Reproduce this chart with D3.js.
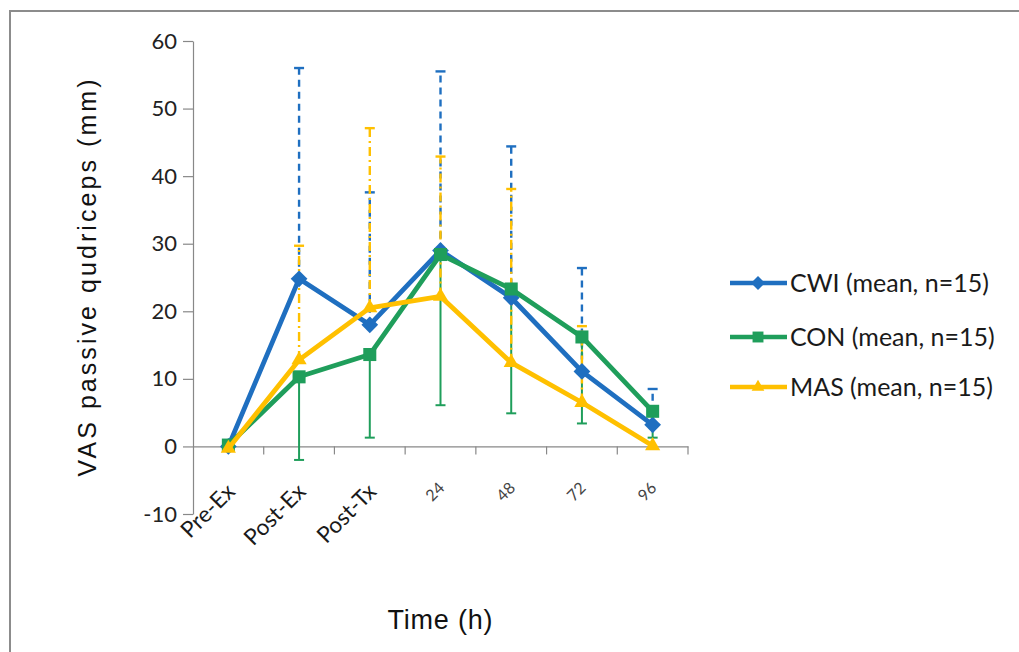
<!DOCTYPE html>
<html>
<head>
<meta charset="utf-8">
<script src="https://cdn.jsdelivr.net/npm/d3@7/dist/d3.min.js"></script>
<style>
  html, body { margin: 0; padding: 0; background: #fff; }
  svg { display: block; }
</style>
</head>
<body>
<svg id="chart" width="1019" height="652"></svg>
<script>
// ---- data ----
const categories = ["Pre-Ex", "Post-Ex", "Post-Tx", "24", "48", "72", "96"];
const yTicks = [-10, 0, 10, 20, 30, 40, 50, 60];
const seriesNames = ["CWI (mean, n=15)", "CON (mean, n=15)", "MAS (mean, n=15)"];

const cwiMean = [0, 24.8, 18.0, 29.0, 22.0, 11.1, 3.2];
const cwiSD   = [0, 31.2, 19.6, 26.5, 22.4, 15.3, 5.3];   // shown upward only
const conMean = [0.2, 10.3, 13.6, 28.4, 23.3, 16.2, 5.2];
const conSD   = [0, 12.3, 12.3, 22.3, 18.4, 12.8, 3.9];   // shown downward only
const masMean = [-0.3, 12.8, 20.5, 22.2, 12.4, 6.5, 0.1];
const masSD   = [0, 16.9, 26.6, 20.7, 25.7, 11.3, 0];     // shown upward only

// ---- setup ----
const svg = d3.select("#chart");
const FONT = "Lato, 'Open Sans', sans-serif";
const ARIAL = "'Liberation Sans', Arial, sans-serif";

// frame
svg.append("rect")
  .attr("x", 10).attr("y", 11).attr("width", 1100).attr("height", 700)
  .attr("fill", "none").attr("stroke", "#8c8c8c").attr("stroke-width", 2);

const x = d3.scaleBand().domain(categories).range([193, 688]).padding(0);
const y = d3.scaleLinear().domain([-10, 60]).range([514, 41]);
const cx = d => x(d) + x.bandwidth() / 2;

// y axis
const yAxis = svg.append("g")
  .attr("transform", "translate(193,0)")
  .call(d3.axisLeft(y).tickValues(yTicks).tickSize(10).tickSizeOuter(0).tickPadding(6)
        .tickFormat(d => String(d)));
yAxis.select(".domain").attr("stroke", "#888").attr("stroke-width", 1.2);
yAxis.selectAll(".tick line").attr("stroke", "#888").attr("stroke-width", 1.2);
yAxis.selectAll(".tick text")
  .attr("font-family", FONT).attr("font-size", 22).attr("fill", "#222");

// x axis (at y = 0), ticks at category boundaries
const xAxis = svg.append("g")
  .attr("transform", `translate(0,${y(0)})`)
  .call(d3.axisBottom(x).tickSize(0).tickSizeOuter(0).tickFormat(""));
xAxis.select(".domain").attr("stroke", "#888").attr("stroke-width", 1.2);
const boundaries = categories.map(c => x(c) + x.bandwidth());
xAxis.selectAll(".bnd").data(boundaries).enter().append("line")
  .attr("x1", d => d).attr("x2", d => d).attr("y1", 0).attr("y2", 8)
  .attr("stroke", "#888").attr("stroke-width", 1.2);

// x category labels rotated
svg.selectAll(".xlab").data(categories).enter().append("text")
  .attr("class", "xlab")
  .attr("transform", (d, i) => i < 3
      ? `translate(${cx(d) + 8},${493}) rotate(-45)`
      : `translate(${cx(d) + 5},${489}) rotate(-45)`)
  .attr("text-anchor", "end")
  .attr("font-family", FONT)
  .attr("font-size", (d, i) => i < 3 ? 22.5 : 16)
  .attr("fill", (d, i) => i < 3 ? "#1a1a1a" : "#444")
  .text(d => d);

// axis titles
svg.append("text")
  .attr("transform", `translate(96,${278}) rotate(-90)`)
  .attr("text-anchor", "middle")
  .attr("font-family", ARIAL).attr("font-size", 25).attr("fill", "#111")
  .attr("textLength", 397).attr("lengthAdjust", "spacing")
  .text("VAS passive qudriceps (mm)");

svg.append("text")
  .attr("x", 440).attr("y", 629)
  .attr("text-anchor", "middle")
  .attr("font-family", ARIAL).attr("font-size", 27).attr("fill", "#111")
  .attr("textLength", 105).attr("lengthAdjust", "spacing")
  .text("Time (h)");

// ---- series ----
const diamond = {
  draw(ctx, size) {
    const r = Math.sqrt(size / 2);
    ctx.moveTo(0, -r); ctx.lineTo(r, 0); ctx.lineTo(0, r); ctx.lineTo(-r, 0); ctx.closePath();
  }
};
const series = [
  { name: seriesNames[0], mean: cwiMean, sd: cwiSD, dir: 1, color: "#1f6fc0",
    dash: "7,5", ew: 2.4, symbol: diamond, size: 140 },
  { name: seriesNames[1], mean: conMean, sd: conSD, dir: -1, color: "#1f9e5b",
    dash: null, ew: 2, symbol: d3.symbolSquare, size: 170 },
  { name: seriesNames[2], mean: masMean, sd: masSD, dir: 1, color: "#ffc000",
    dash: "9,4,2,4", ew: 2.4, symbol: d3.symbolTriangle, size: 100 }
];

// error bars
series.forEach(s => {
  const g = svg.append("g");
  const pts = categories.map((c, i) => ({ c, m: s.mean[i], e: s.sd[i] })).filter(p => p.e > 0);
  g.selectAll("line.v").data(pts).enter().append("line")
    .attr("x1", p => cx(p.c)).attr("x2", p => cx(p.c))
    .attr("y1", p => y(p.m)).attr("y2", p => y(p.m + s.dir * p.e))
    .attr("stroke", s.color).attr("stroke-width", s.ew)
    .attr("stroke-dasharray", s.dash);
  g.selectAll("line.cap").data(pts).enter().append("line")
    .attr("x1", p => cx(p.c) - 5).attr("x2", p => cx(p.c) + 5)
    .attr("y1", p => y(p.m + s.dir * p.e)).attr("y2", p => y(p.m + s.dir * p.e))
    .attr("stroke", s.color).attr("stroke-width", s.ew);
});

// lines + markers
const line = d3.line().x(d => cx(d.c)).y(d => y(d.v));
series.forEach(s => {
  const data = categories.map((c, i) => ({ c, v: s.mean[i] }));
  svg.append("path").datum(data)
    .attr("d", line).attr("fill", "none")
    .attr("stroke", s.color).attr("stroke-width", 4.8).attr("stroke-linejoin", "round");
  svg.selectAll(null).data(data).enter().append("path")
    .attr("transform", d => `translate(${cx(d.c)},${y(d.v)})`)
    .attr("d", d3.symbol().type(s.symbol).size(s.size))
    .attr("fill", s.color);
});

// ---- legend ----
const legend = svg.append("g");
const legendY = [283, 337, 387];
series.forEach((s, i) => {
  const g = legend.append("g").attr("transform", `translate(0,${legendY[i]})`);
  g.append("line").attr("x1", 730).attr("x2", 787).attr("y1", 0).attr("y2", 0)
    .attr("stroke", s.color).attr("stroke-width", 4.5);
  g.append("path").attr("transform", "translate(758,0)")
    .attr("d", d3.symbol().type(s.symbol).size(s.size * 0.7)).attr("fill", s.color);
  g.append("text").attr("x", 790).attr("y", 9)
    .attr("font-family", FONT).attr("font-size", 25).attr("fill", "#1a1a1a")
    .text(s.name);
});
</script>
</body>
</html>
